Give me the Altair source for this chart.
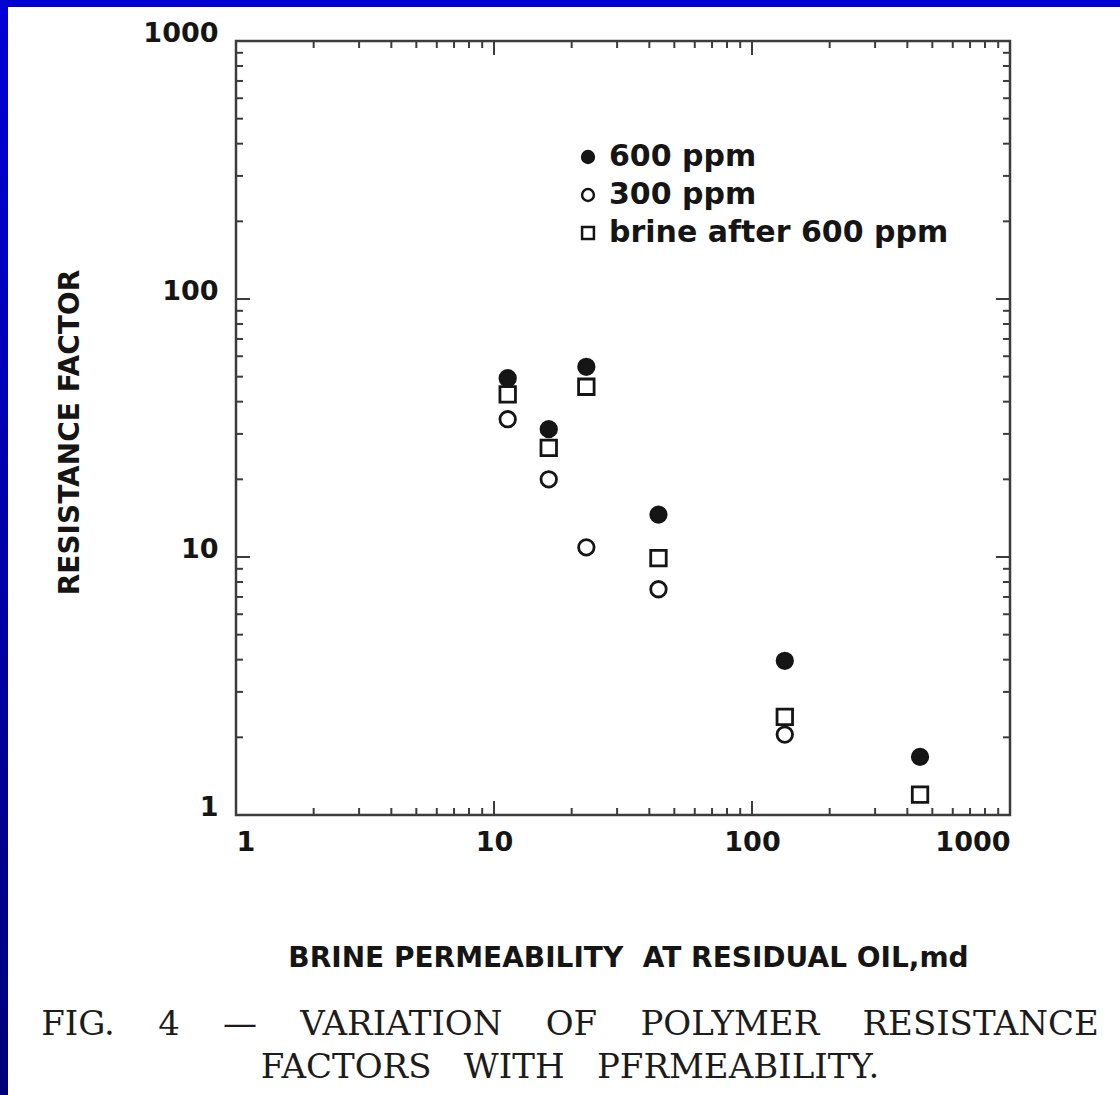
import altair as alt
import pandas as pd

# ---- data ----
series_names = ["600 ppm", "300 ppm", "brine after 600 ppm"]
perm = [11.3, 16.3, 22.8, 43.4, 134, 448]          # brine permeability, md
rf_600 = [49.3, 31.3, 54.6, 14.6, 3.96, 1.68]       # 600 ppm
rf_300 = [34.2, 20.0, 10.9, 7.5, 2.05, None]        # 300 ppm
rf_brine = [42.7, 26.5, 45.7, 9.9, 2.40, 1.20]      # brine after 600 ppm

major_ticks = [1, 10, 100, 1000]
minor_ticks = [m * d for d in (1, 10, 100) for m in range(2, 10)]

nb = "\u00a0"
caption_lines = [
    f"FIG.{nb*4}4{nb*4}\u2014{nb*4}VARIATION{nb*4}OF{nb*4}POLYMER{nb*4}RESISTANCE",
    f"FACTORS{nb*3}WITH{nb*3}PFRMEABILITY.",
]

rows = []
for name, vals in zip(series_names, [rf_600, rf_300, rf_brine]):
    for p, v in zip(perm, vals):
        if v is not None:
            rows.append({"series": name, "perm": p, "rf": v})
df = pd.DataFrame(rows)

W, H = 774, 774
PAD = {"left": 236, "top": 41, "right": 1120 - 236 - W, "bottom": 1095 - 41 - H}

xscale = alt.Scale(type="log", domain=[1, 1000], nice=False)
yscale = alt.Scale(type="log", domain=[1, 1000], nice=False)

INK = "#151515"
AX = "#3c3c3c"
SANS = "DejaVu Sans"

x_axis = alt.Axis(
    values=major_ticks, format="d", ticks=False, domain=False, grid=False,
    labelFont=SANS, labelFontSize=27, labelFontWeight="bold", labelColor=INK,
    labelPadding=14,
    title="BRINE PERMEABILITY\u00a0\u00a0AT RESIDUAL OIL,md",
    titleFont=SANS, titleFontSize=28, titleFontWeight="bold", titleColor=INK,
    titleX=392, titleY=143, titleBaseline="middle", titleAlign="center",
)
y_axis = alt.Axis(
    values=major_ticks, format="d", ticks=False, domain=False, grid=False,
    labelFont=SANS, labelFontSize=27, labelFontWeight="bold", labelColor=INK,
    labelPadding=18, labelBaseline="alphabetic",
    title="RESISTANCE FACTOR",
    titleFont=SANS, titleFontSize=28, titleFontWeight="bold", titleColor=INK,
    titleX=-166, titleY=391, titleAngle=270, titleBaseline="middle", titleAlign="center",
)

legend = alt.Legend(
    title=None, orient="none", legendX=337, legendY=101, padding=0,
    labelFont=SANS, labelFontSize=30, labelFontWeight="bold", labelColor=INK,
    labelOffset=6, labelLimit=600, rowPadding=8,
    symbolSize=140, symbolStrokeColor=INK, symbolStrokeWidth=2.5,
)

points = alt.Chart(df).mark_point(
    filled=False, size=240, strokeWidth=2.8, opacity=1
).encode(
    x=alt.X("perm:Q", scale=xscale, axis=x_axis),
    y=alt.Y("rf:Q", scale=yscale, axis=y_axis),
    shape=alt.Shape("series:N", scale=alt.Scale(domain=series_names, range=["circle", "circle", "square"]), legend=legend),
    fill=alt.Fill("series:N", scale=alt.Scale(domain=series_names, range=[INK, "white", "white"]), legend=legend),
    stroke=alt.Stroke("series:N", scale=alt.Scale(domain=series_names, range=[INK, INK, INK]), legend=legend),
)

# inward ticks on all four sides
tick_layers = []
for vals, L in ((major_ticks, 14), (minor_ticks, 7)):
    tdf = pd.DataFrame({"perm": vals, "rf": vals})
    base = alt.Chart(tdf).mark_rule(color=AX, strokeWidth=2)
    tick_layers.append(base.encode(x=alt.X("perm:Q", scale=xscale, axis=x_axis), y=alt.value(H), y2=alt.value(H - L)))
    tick_layers.append(base.encode(x=alt.X("perm:Q", scale=xscale, axis=x_axis), y=alt.value(0), y2=alt.value(L)))
    tick_layers.append(base.encode(y=alt.Y("rf:Q", scale=yscale, axis=y_axis), x=alt.value(0), x2=alt.value(L)))
    tick_layers.append(base.encode(y=alt.Y("rf:Q", scale=yscale, axis=y_axis), x=alt.value(W), x2=alt.value(W - L)))

# blue slide frame (left and top bands)
one = pd.DataFrame({"a": [0]})
left_band = alt.Chart(one).mark_rect(
    color=alt.LinearGradient(
        gradient="linear", x1=0, y1=0, x2=0, y2=1,
        stops=[alt.GradientStop(color="#0000d8", offset=0), alt.GradientStop(color="#00007a", offset=1)],
    )
).encode(x=alt.value(-PAD["left"]), x2=alt.value(-PAD["left"] + 8),
         y=alt.value(-PAD["top"]), y2=alt.value(H + PAD["bottom"]))
top_band = alt.Chart(one).mark_rect(color="#0000d0").encode(
    x=alt.value(-PAD["left"]), x2=alt.value(W + PAD["right"]),
    y=alt.value(-PAD["top"]), y2=alt.value(-PAD["top"] + 7))

# caption lines below the figure
cap_layers = []
for line, yy in zip(caption_lines, (1025 - 41, 1068 - 41)):
    cap_layers.append(
        alt.Chart(pd.DataFrame({"t": [line]})).mark_text(
            font="DejaVu Serif", fontSize=34, color="#1c1c1c", align="center", baseline="middle"
        ).encode(text="t:N", x=alt.value(570 - 236), y=alt.value(yy))
    )

chart = alt.layer(left_band, top_band, *tick_layers, *cap_layers, points).properties(
    width=W, height=H,
    padding=PAD,
    autosize=alt.AutoSizeParams(type="none"),
    background="white",
).configure_view(stroke=AX, strokeWidth=2.5)

chart.save("out.html", embed_options={"renderer": "svg", "actions": False})
